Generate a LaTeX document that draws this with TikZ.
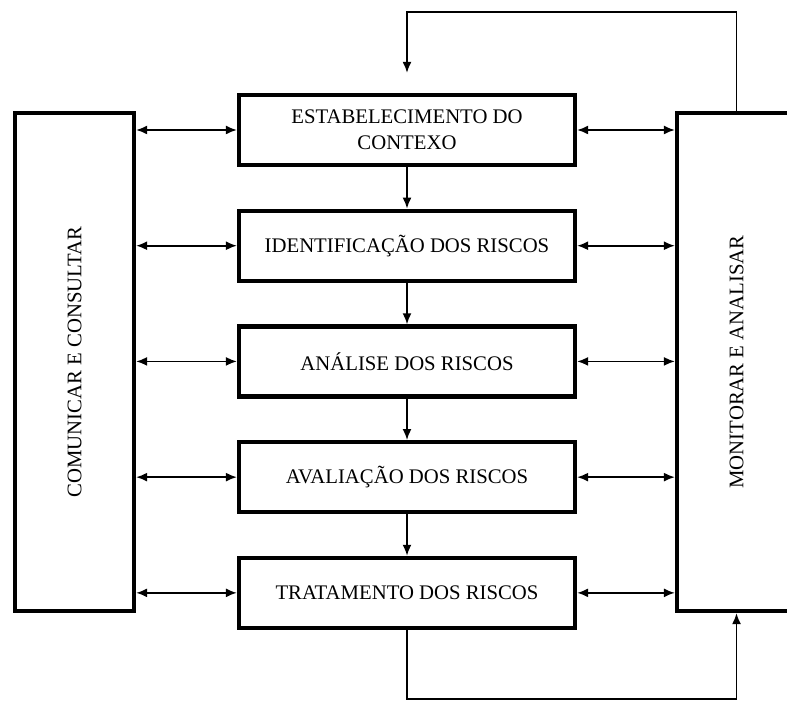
\documentclass[tikz,border=0pt]{standalone}
\usepackage{fontspec}
\setmainfont{Liberation Serif}
\usetikzlibrary{positioning, arrows.meta}

\begin{document}
\begin{tikzpicture}[
  etapa/.style = {draw, line width=2.4pt, minimum width=6.72cm, minimum height=1.4cm,
                  align=center, font=\fontsize{11.8}{14.6}\selectfont},
  lado/.style = {draw, line width=2.4pt, minimum width=2.38cm, minimum height=9.96cm,
                 font=\fontsize{11.8}{14.6}\selectfont},
  seta/.style = {-{Latex[length=2.2mm,width=1.8mm]}, line width=1pt},
  dupla/.style = {{Latex[length=2.2mm,width=1.8mm]}-{Latex[length=2.2mm,width=1.8mm]}, line width=1pt},
  node distance = 0.83cm]
\clip (0,0) rectangle (15.74,14);
\node[etapa] (e1) at (8.14,11.4) {ESTABELECIMENTO DO\\CONTEXO};
\node[etapa, below=of e1] (e2) {IDENTIFICAÇÃO DOS RISCOS};
\node[etapa, below=of e2] (e3) {ANÁLISE DOS RISCOS};
\node[etapa, below=of e3] (e4) {AVALIAÇÃO DOS RISCOS};
\node[etapa, below=of e4] (e5) {TRATAMENTO DOS RISCOS};
\node[lado] (com) at (1.49,6.76) {\rotatebox{90}{COMUNICAR E CONSULTAR}};
\node[lado] (mon) at (14.73,6.76) {\rotatebox{90}{MONITORAR E ANALISAR}};
\draw[seta] (e1) -- (e2);
\draw[seta] (e2) -- (e3);
\draw[seta] (e3) -- (e4);
\draw[seta] (e4) -- (e5);
\foreach \e in {e1,e2,e3,e4,e5}{
  \draw[dupla] (com.east |- \e) -- (\e.west);
  \draw[dupla] (\e.east) -- (mon.west |- \e);
}
\coordinate (topo) at ([yshift=1.62cm]e1.north);
\coordinate (entra) at ([yshift=0.4cm]e1.north);
\coordinate (fundo) at ([yshift=-1.38cm]e5.south);
\draw[seta] (mon.north) |- (topo) -- (entra);
\draw[seta] (e5.south) |- (fundo) -| (mon.south);
\end{tikzpicture}
\end{document}
